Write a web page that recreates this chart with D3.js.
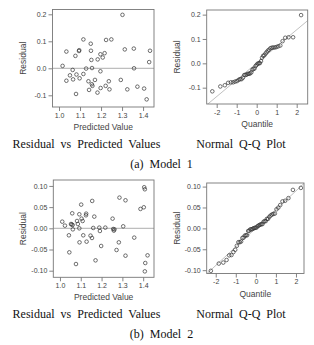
<!DOCTYPE html>
<html>
<head>
<meta charset="utf-8">
<script src="https://cdn.jsdelivr.net/npm/d3@7"></script>
<style>
  body { margin: 0; background: #fff; }
  svg { display: block; }
</style>
</head>
<body>
<svg id="chart" width="314" height="345"></svg>
<script>
// Model 1: predicted values and residuals
var predA = [1.017, 1.035, 1.035, 1.052, 1.065, 1.067, 1.078, 1.083, 1.081, 1.095,
  1.096, 1.098, 1.116, 1.116, 1.129, 1.140, 1.143, 1.151, 1.152, 1.154,
  1.157, 1.156, 1.159, 1.171, 1.184, 1.183, 1.197, 1.197, 1.198, 1.208,
  1.217, 1.224, 1.222, 1.237, 1.240, 1.249, 1.294, 1.302, 1.313, 1.325,
  1.356, 1.357, 1.373, 1.405, 1.417, 1.429, 1.433];
var residA = [0.009, 0.062, -0.046, -0.026, -0.006, -0.041, 0.046, -0.023, -0.095, 0.064,
  0.067, -0.037, 0.107, -0.021, -0.001, -0.048, -0.080, 0.091, 0.065, 0.031,
  0.001, -0.059, -0.065, -0.043, 0.033, -0.090, 0.052, -0.011, -0.073, 0.040,
  0.056, 0.105, -0.065, -0.048, -0.078, 0.107, -0.043, 0.198, 0.070, -0.078,
  0.073, 0.000, -0.068, -0.075, -0.115, 0.023, 0.065];

// Model 2
var predB = [1.011, 1.024, 1.043, 1.045, 1.053, 1.056, 1.059, 1.062, 1.061, 1.077,
  1.082, 1.086, 1.093, 1.093, 1.094, 1.102, 1.104, 1.109, 1.112, 1.125,
  1.126, 1.128, 1.147, 1.154, 1.155, 1.160, 1.165, 1.171, 1.189, 1.192,
  1.198, 1.218, 1.253, 1.256, 1.259, 1.262, 1.272, 1.283, 1.286, 1.304,
  1.315, 1.315, 1.357, 1.387, 1.403, 1.405, 1.408, 1.410, 1.408, 1.421];
var residB = [0.0157, 0.0063, -0.0165, -0.0567, 0.0102, 0.0090, 0.0354, -0.0024, 0.0079, -0.0843,
  0.0173, 0.0102, 0.0000, 0.0331, -0.0331, 0.0559, 0.0228, 0.0173, -0.0165, 0.0307,
  0.0346, -0.0315, -0.0173, -0.0228, 0.0646, 0.0008, 0.0276, -0.0756, 0.0016, -0.0063,
  -0.0417, 0.0016, 0.0228, -0.0016, -0.0055, -0.0024, -0.0512, -0.0331, 0.0724, 0.0047,
  0.0661, -0.0646, -0.0220, 0.0457, 0.0496, 0.0969, 0.0921, -0.0819, -0.1016, -0.0638];

// tick values and labels
var predTicks = [1.0, 1.1, 1.2, 1.3, 1.4];
var predLabels = ["1.0", "1.1", "1.2", "1.3", "1.4"];
var quantTicks = [-2, -1, 0, 1, 2];
var quantLabels = ["-2", "-1", "0", "1", "2"];
var residTicksA = [-0.1, 0.0, 0.1, 0.2];
var residLabelsA = ["-0.1", "0.0", "0.1", "0.2"];
var residTicksB = [-0.10, -0.05, 0.00, 0.05, 0.10];
var residLabelsB = ["-0.10", "-0.05", "0.00", "0.05", "0.10"];

var captionLeft = "Residual vs Predicted Values";
var captionRight = "Normal Q-Q Plot";
var captionA = "(a)  Model  1";
var captionB = "(b)  Model  2";

var svg = d3.select("#chart");
var sans = "'Liberation Sans', Arial, sans-serif";
var serif = "'Liberation Serif', 'Times New Roman', serif";

// inverse normal cdf (Acklam)
function qnorm(p) {
  var a = [-39.6968302866538, 220.946098424521, -275.928510446969, 138.357751867269, -30.6647980661472, 2.50662827745924];
  var b = [-54.4760987982241, 161.585836858041, -155.698979859887, 66.8013118877197, -13.2806815528857];
  var c = [-0.00778489400243029, -0.322396458041136, -2.40076394488, -2.54973253934373, 4.37466414146497, 2.93816398269878];
  var d = [0.00778469570904146, 0.32246712907004, 2.445134137143, 3.75440866190742];
  var q, r;
  if (p < 0.02425) {
    q = Math.sqrt(-2 * Math.log(p));
    return (((((c[0]*q+c[1])*q+c[2])*q+c[3])*q+c[4])*q+c[5]) / ((((d[0]*q+d[1])*q+d[2])*q+d[3])*q+1);
  } else if (p > 1 - 0.02425) {
    q = Math.sqrt(-2 * Math.log(1 - p));
    return -(((((c[0]*q+c[1])*q+c[2])*q+c[3])*q+c[4])*q+c[5]) / ((((d[0]*q+d[1])*q+d[2])*q+d[3])*q+1);
  }
  q = p - 0.5; r = q * q;
  return (((((a[0]*r+a[1])*r+a[2])*r+a[3])*r+a[4])*r+a[5])*q / (((((b[0]*r+b[1])*r+b[2])*r+b[3])*r+b[4])*r+1);
}

var clipId = 0;

function panel(opt) {
  var x = d3.scaleLinear().domain(opt.xd).range([opt.box[0], opt.box[2]]);
  var y = d3.scaleLinear().domain(opt.yd).range([opt.box[3], opt.box[1]]);
  var g = svg.append("g");

  clipId++;
  g.append("clipPath").attr("id", "clip" + clipId)
    .append("rect")
    .attr("x", opt.box[0]).attr("y", opt.box[1])
    .attr("width", opt.box[2] - opt.box[0]).attr("height", opt.box[3] - opt.box[1]);

  var xAxis = g.append("g")
    .attr("transform", "translate(0," + opt.box[3] + ")")
    .call(d3.axisBottom(x).tickValues(opt.xt).tickSize(4).tickPadding(2)
      .tickFormat(function(d, i) { return opt.xl[i]; }));
  var yAxis = g.append("g")
    .attr("transform", "translate(" + opt.box[0] + ",0)")
    .call(d3.axisLeft(y).tickValues(opt.yt).tickSize(4).tickPadding(2)
      .tickFormat(function(d, i) { return opt.yl[i]; }));
  [xAxis, yAxis].forEach(function(a) {
    a.select(".domain").remove();
    a.selectAll("line").attr("stroke", "#666").attr("stroke-width", 0.8);
    a.selectAll("text").attr("fill", "#444").style("font-family", sans).style("font-size", "7px");
  });

  var inner = g.append("g").attr("clip-path", "url(#clip" + clipId + ")");

  if (opt.hline) {
    inner.append("line")
      .attr("x1", opt.box[0]).attr("x2", opt.box[2])
      .attr("y1", y(0)).attr("y2", y(0))
      .attr("stroke", "#999").attr("stroke-width", 0.8);
  }
  if (opt.qqline) {
    inner.append("line")
      .attr("x1", x(opt.xd[0])).attr("x2", x(opt.xd[1]))
      .attr("y1", y(opt.qqline[1] + opt.qqline[0] * opt.xd[0]))
      .attr("y2", y(opt.qqline[1] + opt.qqline[0] * opt.xd[1]))
      .attr("stroke", "#b0b0b0").attr("stroke-width", 0.8);
  }

  inner.selectAll("circle")
    .data(opt.pts)
    .enter()
    .append("circle")
    .attr("cx", function(d) { return x(d[0]); })
    .attr("cy", function(d) { return y(d[1]); })
    .attr("r", 1.8)
    .attr("fill", "none")
    .attr("stroke", "#333")
    .attr("stroke-width", 0.7);

  g.append("rect")
    .attr("x", opt.box[0]).attr("y", opt.box[1])
    .attr("width", opt.box[2] - opt.box[0]).attr("height", opt.box[3] - opt.box[1])
    .attr("fill", "none").attr("stroke", "#777").attr("stroke-width", 0.9);

  g.append("text")
    .attr("x", (opt.box[0] + opt.box[2]) / 2).attr("y", opt.box[3] + 23)
    .attr("text-anchor", "middle").attr("fill", "#444")
    .style("font-family", sans).style("font-size", "8.5px")
    .text(opt.xTitle);
  g.append("text")
    .attr("transform", "translate(" + (opt.box[0] - 27) + "," + ((opt.box[1] + opt.box[3]) / 2) + ") rotate(-90)")
    .attr("text-anchor", "middle").attr("fill", "#444")
    .style("font-family", sans).style("font-size", "8.5px")
    .text("Residual");
}

function qqPoints(res) {
  var s = res.slice().sort(d3.ascending);
  var n = s.length;
  return s.map(function(v, i) { return [qnorm((i + 1 - 0.375) / (n + 0.25)), v]; });
}
// reference line: mean + sd * quantile
function qqFit(res) {
  return [d3.deviation(res), d3.mean(res)];
}

// Model 1
panel({
  box: [52.5, 9.5, 154, 107], xd: [0.969, 1.452], yd: [-0.1433, 0.2178],
  xt: predTicks, xl: predLabels, yt: residTicksA, yl: residLabelsA,
  pts: predA.map(function(p, i) { return [p, residA[i]]; }),
  hline: true, xTitle: "Predicted Value"
});
panel({
  box: [206.7, 10, 307.7, 104], xd: [-2.5, 2.55], yd: [-0.167, 0.219],
  xt: quantTicks, xl: quantLabels, yt: residTicksA, yl: residLabelsA,
  pts: qqPoints(residA), qqline: qqFit(residA), xTitle: "Quantile"
});

// Model 2
panel({
  box: [53.3, 180, 154, 277.3], xd: [0.968, 1.452], yd: [-0.1156, 0.114],
  xt: predTicks, xl: predLabels, yt: residTicksB, yl: residLabelsB,
  pts: predB.map(function(p, i) { return [p, residB[i]]; }),
  hline: true, xTitle: "Predicted Value"
});
panel({
  box: [206.7, 183, 304, 273.5], xd: [-2.45, 2.4], yd: [-0.108, 0.1086],
  xt: quantTicks, xl: quantLabels, yt: residTicksB, yl: residLabelsB,
  pts: qqPoints(residB), qqline: qqFit(residB), xTitle: "Quantile"
});

// captions
function caption(txt, cx, by) {
  svg.append("text")
    .attr("x", cx).attr("y", by)
    .attr("text-anchor", "middle").attr("fill", "#111")
    .style("font-family", serif).style("font-size", "12px")
    .style("word-spacing", "3px")
    .text(txt);
}
caption(captionLeft, 86.5, 148);
caption(captionRight, 241, 148);
caption(captionA, 161.5, 168);
caption(captionLeft, 86.5, 318);
caption(captionRight, 241, 318);
caption(captionB, 161.5, 338);
</script>
</body>
</html>
